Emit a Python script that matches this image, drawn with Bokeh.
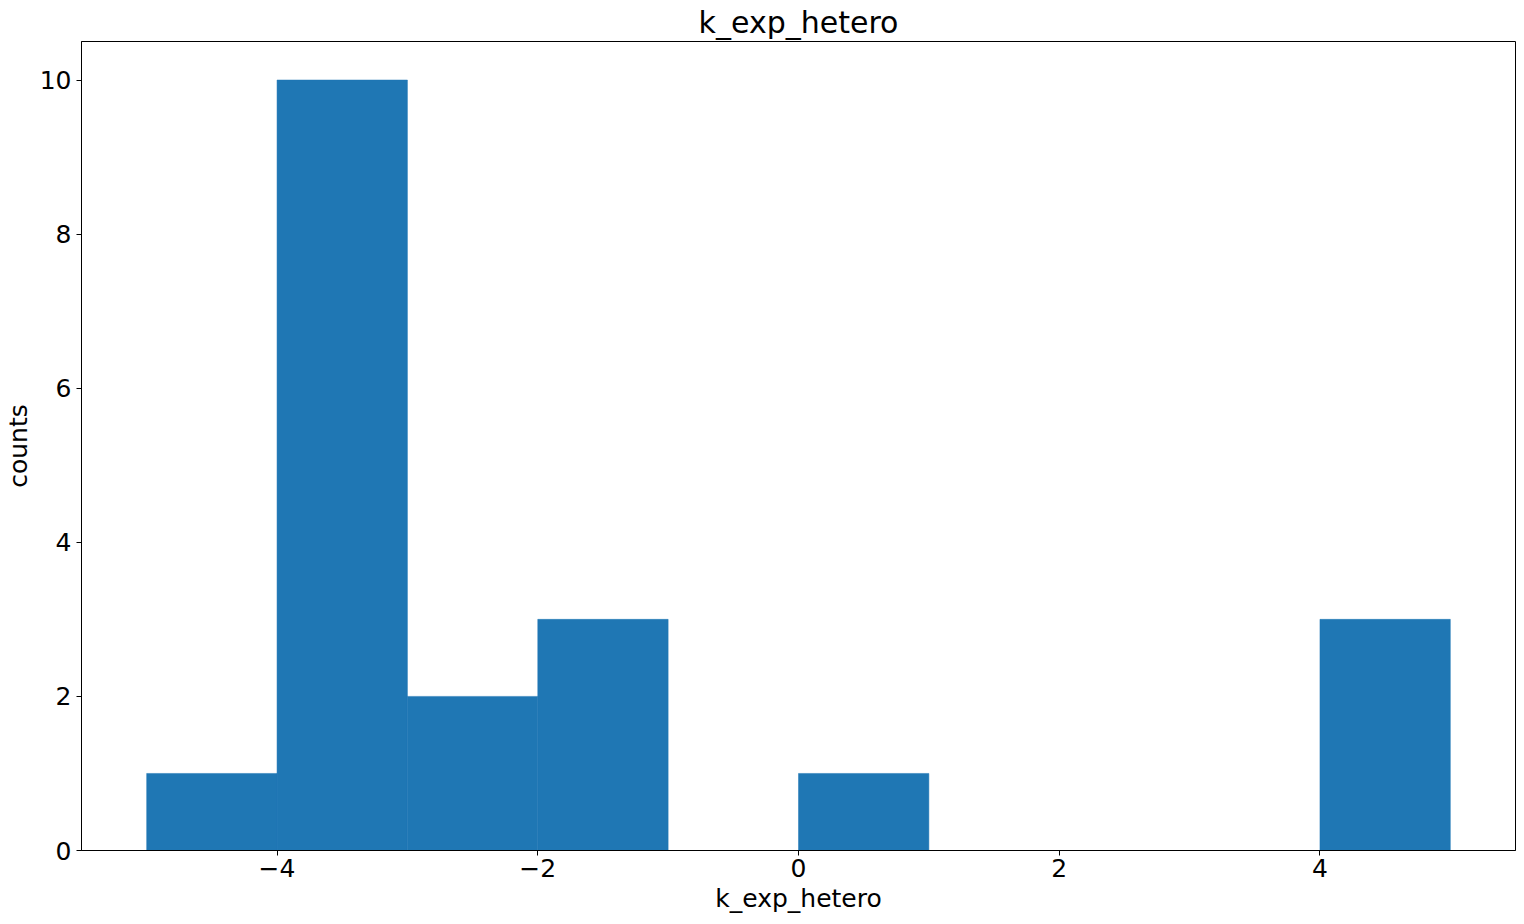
from bokeh.plotting import figure
from bokeh.models import FixedTicker, CustomJSTickFormatter, Range1d
from bokeh.embed import file_html
from bokeh.resources import INLINE

bin_edges = [-5, -4, -3, -2, -1, 0, 1, 2, 3, 4, 5]
counts = [1, 10, 2, 3, 0, 1, 0, 0, 0, 3]
x_ticks = [-4, -2, 0, 2, 4]
y_ticks = [0, 2, 4, 6, 8, 10]

p = figure(width=1516, height=924, output_backend="svg", toolbar_location=None,
           x_range=Range1d(-5.5, 5.5), y_range=Range1d(0, 10.5),
           title="k_exp_hetero", frame_width=1434, frame_height=809,
           min_border_left=81, min_border_top=41, min_border_right=1, min_border_bottom=10)

p.quad(left=bin_edges[:-1], right=bin_edges[1:], bottom=0, top=counts,
       fill_color="#1f77b4", line_color="#1f77b4", line_width=0.5)

p.title.align = "center"
p.title.text_font = "DejaVu Sans"
p.title.text_font_size = "30px"
p.title.text_font_style = "normal"
p.title.text_color = "black"
p.title.standoff = 4

p.xgrid.visible = False
p.ygrid.visible = False
p.outline_line_color = "black"
p.outline_line_width = 1

fmt = CustomJSTickFormatter(code="return tick < 0 ? '\\u2212' + Math.abs(tick) : tick.toString();")
p.xaxis.ticker = FixedTicker(ticks=x_ticks)
p.yaxis.ticker = FixedTicker(ticks=y_ticks)
p.xaxis.formatter = fmt
p.yaxis.formatter = fmt
p.xaxis.axis_label = "k_exp_hetero"
p.yaxis.axis_label = "counts"

for ax in (p.xaxis, p.yaxis):
    ax.axis_line_color = "black"
    ax.major_tick_line_color = "black"
    ax.major_tick_out = 5
    ax.major_tick_in = 0
    ax.minor_tick_line_color = None
    ax.major_label_text_font = "DejaVu Sans"
    ax.major_label_text_font_size = "25px"
    ax.major_label_text_color = "black"
    ax.axis_label_text_font = "DejaVu Sans"
    ax.axis_label_text_font_size = "25px"
    ax.axis_label_text_font_style = "normal"
    ax.axis_label_text_color = "black"
    ax.axis_label_standoff = 4

p.xaxis.major_label_standoff = 3
p.yaxis.major_label_standoff = 5

open("out.html", "w").write(file_html(p, INLINE))
